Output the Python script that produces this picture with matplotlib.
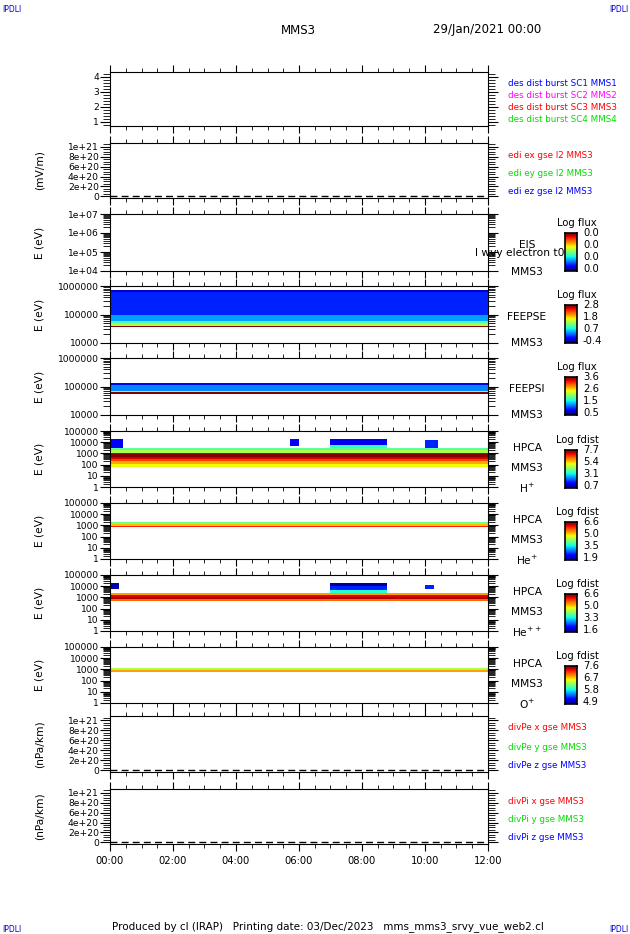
import numpy as np
import matplotlib
matplotlib.use("Agg")
import matplotlib.pyplot as plt
from matplotlib.ticker import MultipleLocator, LogLocator, NullFormatter, FixedLocator

plt.rcParams['font.family'] = ['DejaVu Sans']
W, H = 630, 934

# ---------------- data ----------------
hours_edges = np.arange(0, 12.01, 1/6)          # time bins (10 min)
xticks = [0, 2, 4, 6, 8, 10, 12]
xticklabels = ["00:00", "02:00", "04:00", "06:00", "08:00", "10:00", "12:00"]

des_labels = ["des dist burst SC1 MMS1", "des dist burst SC2 MMS2",
              "des dist burst SC3 MMS3", "des dist burst SC4 MMS4"]
des_colors = ["#0000ff", "#ff00ff", "#ff0000", "#00dd00"]
edi_labels = ["edi ex gse l2 MMS3", "edi ey gse l2 MMS3", "edi ez gse l2 MMS3"]
divpe_labels = ["divPe x gse MMS3", "divPe y gse MMS3", "divPe z gse MMS3"]
divpi_labels = ["divPi x gse MMS3", "divPi y gse MMS3", "divPi z gse MMS3"]
xyz_colors = ["#ff0000", "#00dd00", "#0000ff"]

# FEEPS electrons: energy edges (eV) and log flux per channel
feepse_E = [35e3, 40e3, 50e3, 60e3, 100e3, 600e3, 700e3]
feepse_v = [2.8, 1.4, 1.0, 0.5, 0.1, -0.2]
# FEEPS ions
feepsi_E = [55e3, 62e3, 70e3, 110e3, 130e3]
feepsi_v = [3.6, 2.2, 1.3, 0.9]
# HPCA H+
hp_E = [60, 120, 200, 300, 500, 800, 1100, 2000, 3000]
hp_v = [5.2, 5.8, 6.6, 7.2, 7.7, 7.3, 4.6, 3.9]
hp_events = [(0.0, 0.4, 3000, 20000, 1.5), (5.7, 6.0, 5000, 20000, 1.6),
             (7.0, 8.8, 3000, 6000, 3.6), (7.0, 8.8, 6000, 20000, 1.4),
             (10.0, 10.4, 3000, 15000, 1.8)]
# HPCA He+
he_E = [650, 850, 1400, 2200]
he_v = [6.0, 5.2, 4.2]
he_events = []
# HPCA He++
hepp_E = [450, 700, 1100, 1600, 2500]
hepp_v = [5.6, 6.4, 6.2, 5.3]
hepp_events = [(0.0, 0.3, 6000, 20000, 1.8), (7.0, 8.8, 2500, 5000, 3.6),
               (7.0, 8.8, 5000, 10000, 2.4), (7.0, 8.8, 10000, 20000, 1.7),
               (10.0, 10.3, 6000, 12000, 2.4)]
# HPCA O+
o_E = [550, 850, 1400]
o_v = [6.9, 6.4]

cb_ticks = {"EIS": [0.0, 0.0, 0.0, 0.0],
            "FEEPSE": [-0.4, 0.7, 1.8, 2.8],
            "FEEPSI": [0.5, 1.5, 2.6, 3.6],
            "H": [0.7, 3.1, 5.4, 7.7],
            "He": [1.9, 3.5, 5.0, 6.6],
            "Hepp": [1.6, 3.3, 5.0, 6.6],
            "O": [4.9, 5.8, 6.7, 7.6]}

# ---------------- layout ----------------
fig = plt.figure(figsize=(W/100, H/100), dpi=100)
panels = [(72, 126), (143, 198), (214, 271), (286, 343), (358, 415), (431, 487),
          (503, 559), (575, 631), (647, 703), (716, 772), (789, 844)]
X0, X1 = 110, 488
FS = 7.2
TFS = 6.6

def mkax(i):
    t, b = panels[i]
    ax = fig.add_axes([X0/W, 1-b/H, (X1-X0)/W, (b-t)/H])
    ax.set_xlim(0, 12)
    ax.xaxis.set_major_locator(FixedLocator(xticks))
    ax.xaxis.set_minor_locator(MultipleLocator(0.5))
    ax.tick_params(axis='both', which='both', direction='out', top=True, right=True,
                   labelsize=TFS, pad=1)
    ax.tick_params(axis='x', which='major', length=5)
    ax.tick_params(axis='x', which='minor', length=3)
    ax.tick_params(axis='y', which='major', length=7)
    ax.tick_params(axis='y', which='minor', length=5)
    ax.set_xticklabels([] if i < 10 else xticklabels)
    if i == 10:
        ax.tick_params(axis='x', labelsize=FS, pad=4)
    for s in ax.spines.values():
        s.set_linewidth(0.8)
    return ax, t, b

def cbar(t, title, ticks, vmin, vmax):
    cax = fig.add_axes([565/W, 1-(t+57)/H, 12/W, 38/H])
    grad = np.linspace(vmin, vmax, 50).reshape(-1, 1)
    cax.imshow(grad, aspect='auto', cmap='jet', origin='lower', vmin=vmin, vmax=vmax)
    cax.set_xticks([]); cax.set_yticks([])
    for s in cax.spines.values():
        s.set_linewidth(1.2)
    fig.text(577/W, 1-(t+9)/H, title, ha='center', va='center', fontsize=FS)
    for k, v in enumerate(ticks):
        fig.text(583/W, 1-(t+55-k*12)/H, f"{v:.1f}", ha='left', va='center', fontsize=FS)

def spectro(ax, Eedges, vals, events, vmin, vmax):
    Z = np.tile(np.array(vals, float)[:, None], (1, len(hours_edges)-1))
    ax.pcolormesh(hours_edges, Eedges, Z, cmap='jet', vmin=vmin, vmax=vmax, shading='flat')
    for (t0, t1, e0, e1, v) in events:
        ax.pcolormesh([t0, t1], [e0, e1], [[v]], cmap='jet', vmin=vmin, vmax=vmax)

def line_labels(t, b, labels, colors):
    n = len(labels)
    for k, (lab, c) in enumerate(zip(labels, colors)):
        y = t + 12 + k*(b-t-18)/(n-1)
        fig.text(508/W, 1-y/H, lab, color=c, fontsize=6.3, va='center', ha='left')

def ylab(t, b, s):
    fig.text(40/W, 1-(t+b)/2/H, s, rotation=90, ha='center', va='center', fontsize=FS+0.5)

# panel 1
ax, t, b = mkax(0)
ax.set_ylim(0.7, 4.3)
ax.yaxis.set_major_locator(MultipleLocator(1))
ax.yaxis.set_minor_locator(MultipleLocator(0.2))
line_labels(t, b, des_labels, des_colors)

# E-field / divP panels
def lin_panel(i, labels, ylabel):
    ax, t, b = mkax(i)
    ax.set_ylim(-0.35e20, 1.08e21)
    ax.set_yticks([0, 2e20, 4e20, 6e20, 8e20, 1e21])
    ax.set_yticklabels(["0", "2e+20", "4e+20", "6e+20", "8e+20", "1e+21"])
    ax.yaxis.set_minor_locator(MultipleLocator(0.5e20))
    ax.axhline(0, color='black', ls=(0, (5, 3)), lw=1)
    line_labels(t, b, labels, xyz_colors)
    ylab(t, b, ylabel)

lin_panel(1, edi_labels, "(mV/m)")

def log_panel(i, lo, hi):
    ax, t, b = mkax(i)
    ax.set_yscale('log')
    ax.set_ylim(lo, hi)
    ax.yaxis.set_major_locator(LogLocator(10, numticks=20))
    ax.yaxis.set_minor_locator(LogLocator(10, subs=np.arange(2, 10), numticks=20))
    ax.yaxis.set_minor_formatter(NullFormatter())
    ylab(t, b, "E (eV)")
    return ax, t, b

def fix_names(t, lines):
    ys = [t+31, t+57] if len(lines) == 2 else [t+17, t+37, t+57]
    for y, s in zip(ys, lines):
        fig.text(527/W, 1-y/H, s, fontsize=FS+0.5, ha='center', va='center')

# EIS
ax, t, b = log_panel(2, 1e4, 1e7)
ax.set_yticks([1e4, 1e5, 1e6, 1e7])
ax.set_yticklabels(["1e+04", "1e+05", "1e+06", "1e+07"])
fig.text(527/W, 1-(t+31)/H, "EIS", fontsize=FS+0.5, ha='center', va='center')
fig.text(520/W, 1-(t+39)/H, "l wvy electron t0", fontsize=FS+0.5, ha='center', va='center')
fig.text(527/W, 1-(t+58)/H, "MMS3", fontsize=FS+0.5, ha='center', va='center')
cbar(t, "Log flux", cb_ticks["EIS"], 0, 1)

for i, Ee, vv, key, lo_hi in [(3, feepse_E, feepse_v, "FEEPSE", (-0.4, 2.8)),
                              (4, feepsi_E, feepsi_v, "FEEPSI", (0.5, 3.6))]:
    ax, t, b = log_panel(i, 1e4, 1e6)
    ax.set_yticks([1e4, 1e5, 1e6])
    ax.set_yticklabels(["10000", "100000", "1000000"])
    spectro(ax, Ee, vv, [], *lo_hi)
    fix_names(t, [key, "MMS3"])
    cbar(t, "Log flux", cb_ticks[key], *lo_hi)

for i, Ee, vv, ev, key, sp in [(5, hp_E, hp_v, hp_events, "H", "H$^{+}$"),
                               (6, he_E, he_v, he_events, "He", "He$^{+}$"),
                               (7, hepp_E, hepp_v, hepp_events, "Hepp", "He$^{++}$"),
                               (8, o_E, o_v, [], "O", "O$^{+}$")]:
    ax, t, b = log_panel(i, 1, 1e5)
    ax.set_yticks([1, 10, 100, 1000, 10000, 100000])
    ax.set_yticklabels(["1", "10", "100", "1000", "10000", "100000"])
    lo, hi = cb_ticks[key][0], cb_ticks[key][-1]
    spectro(ax, Ee, vv, ev, lo, hi)
    fix_names(t, ["HPCA", "MMS3", sp])
    cbar(t, "Log fdist", cb_ticks[key], lo, hi)

lin_panel(9, divpe_labels, "(nPa/km)")
lin_panel(10, divpi_labels, "(nPa/km)")

# header / footer
fig.text(298/W, 1-30/H, "MMS3", fontsize=8.5, ha='center', va='center')
fig.text(487/W, 1-30/H, "29/Jan/2021 00:00", fontsize=8.5, ha='center', va='center')
for x, y in [(2, 10), (628, 10), (2, 929), (628, 929)]:
    fig.text(x/W, 1-y/H, "IPDLI", fontsize=5.5, color='#0000cc',
             ha='left' if x < 300 else 'right', va='center')
fig.text(328/W, 1-927/H,
         "Produced by cl (IRAP)   Printing date: 03/Dec/2023   mms_mms3_srvy_vue_web2.cl",
         fontsize=7.5, ha='center', va='center')

fig.savefig("out.png", dpi=100)
